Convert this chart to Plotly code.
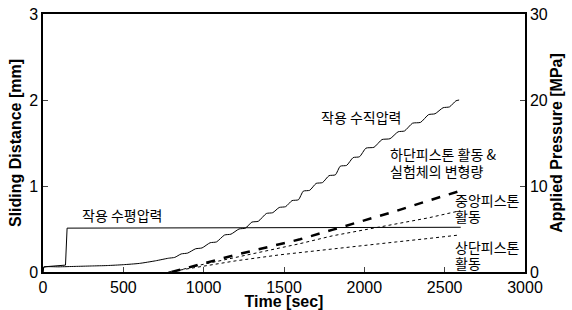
import plotly.graph_objects as go

# ---- data ----
# applied horizontal pressure (MPa)
hp_time = [0, 5, 140, 150, 2600]
hp_press = [0, 0.6, 0.8, 5.1, 5.2]

# applied vertical pressure (MPa), stepwise loading
vp_time = [0, 5, 100, 200, 300, 400, 500, 600, 700, 780,
           820, 860, 900, 950, 990, 1040, 1080, 1130, 1170, 1220,
           1260, 1300, 1340, 1390, 1430, 1470, 1510, 1550, 1590, 1620,
           1660, 1700, 1740, 1780, 1820, 1850, 1890, 1930, 1970, 2010,
           2060, 2110, 2160, 2210, 2250, 2300, 2350, 2400, 2440, 2490,
           2530, 2570, 2590]
vp_press = [0, 0.55, 0.6, 0.65, 0.7, 0.75, 0.85, 1.0, 1.3, 1.6,
            1.7, 2.1, 2.2, 2.7, 2.8, 3.4, 3.5, 4.3, 4.4, 5.0,
            5.1, 5.8, 5.9, 6.8, 6.9, 7.5, 7.6, 8.3, 8.4, 9.4,
            9.5, 10.3, 10.4, 11.2, 11.3, 12.3, 12.4, 13.3, 13.4, 14.4,
            14.5, 15.4, 15.5, 16.3, 16.4, 17.3, 17.4, 18.3, 18.4, 19.1,
            19.2, 19.9, 20.0]

# sliding distances (mm)
low_time = [800, 1000, 1200, 1400, 1600, 1800, 2000, 2200, 2400, 2590]
low_disp = [0, 0.10, 0.20, 0.29, 0.38, 0.49, 0.60, 0.71, 0.83, 0.94]

mid_time = [800, 1000, 1200, 1400, 1600, 1800, 2000, 2200, 2400, 2590]
mid_disp = [0, 0.09, 0.17, 0.25, 0.33, 0.42, 0.49, 0.56, 0.63, 0.71]

up_time = [780, 1000, 1200, 1475, 1800, 2000, 2200, 2400, 2590]
up_disp = [0, 0.07, 0.13, 0.20, 0.27, 0.31, 0.35, 0.39, 0.43]

x_ticks = [0, 500, 1000, 1500, 2000, 2500, 3000]
y_ticks = [0, 1, 2, 3]
y2_ticks = [0, 10, 20, 30]

# (text, time [sec], distance [mm]) - left edge of each label
labels = [
    ("작용 수평압력", 230, 0.66),
    ("작용 수직압력", 1715, 1.80),
    ("하단피스톤 활동 &", 2150, 1.37),
    ("실험체의 변형량", 2150, 1.18),
    ("중앙피스톤", 2550, 0.84),
    ("활동", 2550, 0.65),
    ("상단피스톤", 2550, 0.29),
    ("활동", 2550, 0.10),
]

fig = go.Figure()
fig.add_trace(go.Scatter(x=low_time, y=low_disp, mode="lines",
                         line=dict(color="black", width=2.5, dash="dash")))
fig.add_trace(go.Scatter(x=mid_time, y=mid_disp, mode="lines",
                         line=dict(color="black", width=1, dash="dot")))
fig.add_trace(go.Scatter(x=up_time, y=up_disp, mode="lines",
                         line=dict(color="black", width=1, dash="dot")))
fig.add_trace(go.Scatter(x=hp_time, y=hp_press, mode="lines", yaxis="y2",
                         line=dict(color="black", width=1)))
fig.add_trace(go.Scatter(x=vp_time, y=vp_press, mode="lines", yaxis="y2",
                         line=dict(color="black", width=1, shape="spline", smoothing=0.6)))

tick_font = dict(family="Liberation Sans, Arial, sans-serif", size=16, color="black")
title_font = dict(family="Liberation Sans, Arial, sans-serif", size=16, color="black")

for txt, xp, yp in labels:
    fig.add_annotation(x=xp, y=yp, xref="x", yref="y", text=txt, showarrow=False,
                       xanchor="left", yanchor="middle",
                       font=dict(family="Noto Sans CJK KR", size=14, color="black"))

fig.update_layout(
    width=572, height=310,
    margin=dict(l=43, r=47, t=14, b=38),
    paper_bgcolor="white", plot_bgcolor="white",
    showlegend=False,
    xaxis=dict(range=[0, 3000], tickvals=x_ticks, ticks="inside", ticklen=5,
               showline=True, linecolor="black", linewidth=1.5, mirror=True,
               showgrid=False, zeroline=False, tickfont=tick_font, automargin=False,
               title=dict(text="<b>Time [sec]</b>", font=title_font, standoff=0)),
    yaxis=dict(range=[0, 3], tickvals=y_ticks, ticks="inside", ticklen=5,
               showline=True, linecolor="black", linewidth=1.5,
               showgrid=False, zeroline=False, tickfont=tick_font, automargin=False,
               title=dict(text="<b>Sliding Distance [mm]</b>", font=title_font, standoff=4)),
    yaxis2=dict(range=[0, 30], tickvals=y2_ticks, ticks="inside", ticklen=5,
                overlaying="y", side="right",
                showline=True, linecolor="black", linewidth=1.5,
                showgrid=False, zeroline=False, tickfont=tick_font, automargin=False,
                title=dict(text="<b>Applied Pressure [MPa]</b>", font=title_font, standoff=2)),
)

fig.write_html("out.html", config={"displayModeBar": False},
               post_script="document.body.style.margin='0';document.body.style.overflow='hidden';")
